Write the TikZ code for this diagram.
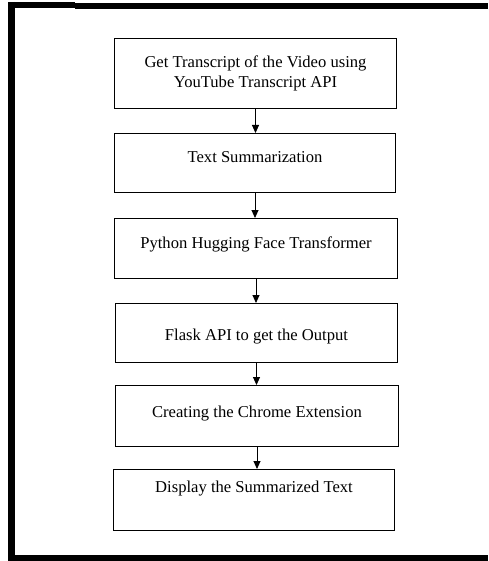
\documentclass[tikz,border=0pt]{standalone}
\usepackage{fontspec}
\setmainfont{Liberation Serif}
\usetikzlibrary{
arrows.meta,
positioning
}
\tikzset{>={Triangle[length=8pt,width=7pt]}}
\tikzset{
	stepbox/.style={draw, line width=1pt, rectangle, align=center, inner sep=3pt,
		font=\fontsize{16.6}{20}\selectfont},
	lift/.style={text height=16pt, text depth=#1},
	flow/.style={->, line width=0.9pt},
	frame/.style={line width=#1, black}
}

\begin{document}
\begin{tikzpicture}[x=1pt, y=-1pt]
	\useasboundingbox (0,0) rectangle (488,561);
	% outer frame
	\draw[frame=7pt] (11.5,2) -- (11.5,561);
	\draw[frame=6pt] (8,5) -- (75,5);
	\draw[frame=6pt] (75,6) -- (488,6);
	\draw[frame=6pt] (8,558) -- (488,558);
	% steps
	\node[stepbox, minimum width=282pt, minimum height=70pt] (transcript) at (255.5,73.5) {Get Transcript of the Video using\\YouTube Transcript API};
	\node[stepbox, lift=17pt, minimum width=281pt, minimum height=59pt] (summ) at (255,163) {Text Summarization};
	\node[stepbox, lift=16pt, minimum width=283pt, minimum height=60pt] (hugging) at (256,248.5) {Python Hugging Face Transformer};
	\node[stepbox, lift=1pt, minimum width=282pt, minimum height=59pt] (flask) at (256.5,333) {Flask API to get the Output};
	\node[stepbox, lift=13pt, minimum width=283pt, minimum height=61pt] (chrome) at (257,416) {Creating the Chrome Extension};
	\node[stepbox, lift=31pt, minimum width=281pt, minimum height=61pt] (display) at (254,500) {Display the Summarized Text};
	% arrows
	\draw[flow] (transcript.south) -- (transcript.south |- summ.north);
	\draw[flow] (summ.south) -- (summ.south |- hugging.north);
	\draw[flow] (hugging.south) -- (hugging.south |- flask.north);
	\draw[flow] (flask.south) -- (flask.south |- chrome.north);
	\draw[flow] (chrome.south) -- (chrome.south |- display.north);
\end{tikzpicture}
\end{document}
